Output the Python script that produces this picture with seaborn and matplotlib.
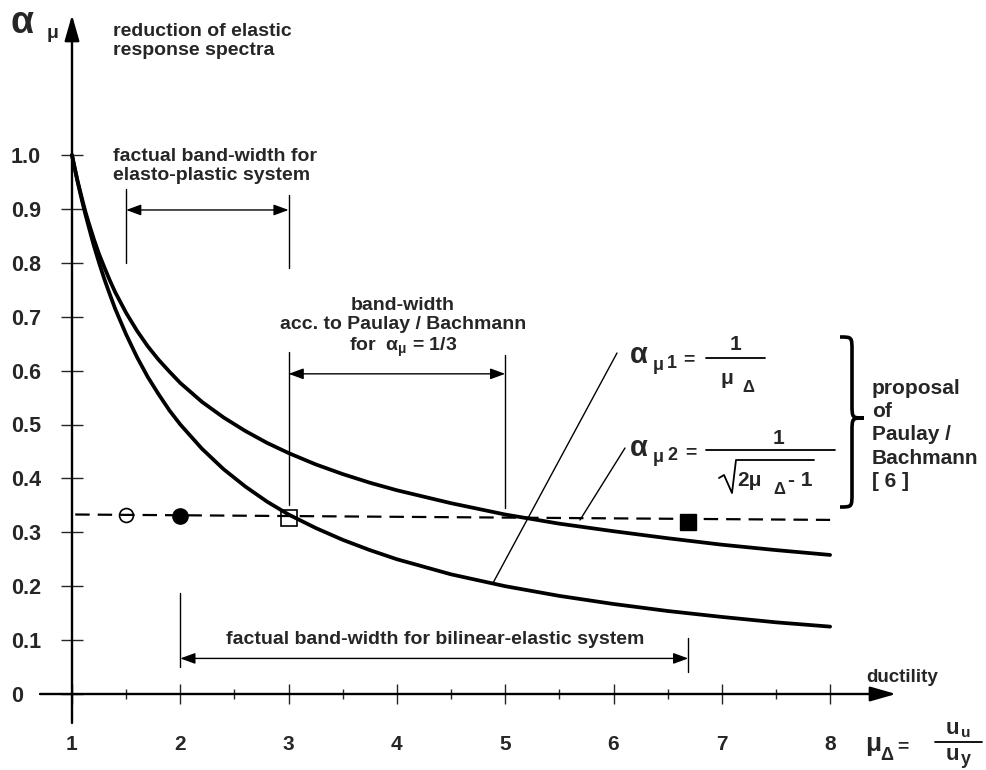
import matplotlib
matplotlib.use("Agg")
import matplotlib.pyplot as plt
import seaborn as sns
import pandas as pd
from matplotlib.path import Path
from matplotlib.patches import PathPatch, FancyArrowPatch

# ---------------- data ----------------
mu = [1.0, 1.01, 1.02, 1.035, 1.05, 1.075, 1.1, 1.125, 1.15, 1.2,
      1.25, 1.3, 1.35, 1.4, 1.5, 1.6, 1.7, 1.8, 1.9, 2.0,
      2.2, 2.4, 2.6, 2.8, 3.0, 3.25, 3.5, 3.75, 4.0, 4.5,
      5.0, 5.5, 6.0, 6.5, 7.0, 7.5, 8.0]
alpha_mu1 = [1.000, 0.990, 0.980, 0.966, 0.952, 0.930, 0.909, 0.889, 0.870, 0.833,
             0.800, 0.769, 0.741, 0.714, 0.667, 0.625, 0.588, 0.556, 0.526, 0.500,
             0.455, 0.417, 0.385, 0.357, 0.333, 0.308, 0.286, 0.267, 0.250, 0.222,
             0.200, 0.182, 0.167, 0.154, 0.143, 0.133, 0.125]
alpha_mu2 = [1.000, 0.990, 0.981, 0.967, 0.953, 0.933, 0.913, 0.894, 0.877, 0.845,
             0.816, 0.791, 0.767, 0.745, 0.707, 0.674, 0.645, 0.620, 0.598, 0.577,
             0.542, 0.513, 0.488, 0.466, 0.447, 0.426, 0.408, 0.392, 0.378, 0.354,
             0.333, 0.316, 0.302, 0.289, 0.277, 0.267, 0.258]
ref_mu = [1.03, 8.0]
ref_alpha = [0.333, 0.323]
marker_mu = [1.5, 2.0, 3.0, 6.69]
marker_alpha = [0.332, 0.331, 0.326, 0.320]
x_ticks = [1, 2, 3, 4, 5, 6, 7, 8]
x_tick_labels = ["1", "2", "3", "4", "5", "6", "7", "8"]
x_minor = [1.5, 2.5, 3.5, 4.5, 5.5, 6.5, 7.5]
y_ticks = [0.0, 0.1, 0.2, 0.3, 0.4, 0.5, 0.6, 0.7, 0.8, 0.9, 1.0]
y_tick_labels = ["0", "0.1", "0.2", "0.3", "0.4", "0.5", "0.6", "0.7", "0.8", "0.9", "1.0"]

# ---------------- style ----------------
sns.set_theme(style="white")
plt.rcParams["font.family"] = ["Liberation Sans", "DejaVu Sans"]
plt.rcParams["font.weight"] = "bold"
plt.rcParams["mathtext.fontset"] = "custom"
plt.rcParams["mathtext.rm"] = "Liberation Sans:bold"
plt.rcParams["mathtext.it"] = "Liberation Sans:bold"
plt.rcParams["mathtext.bf"] = "Liberation Sans:bold"

fig = plt.figure(figsize=(9.86, 7.70), dpi=100)
ax = fig.add_axes([0, 0, 1, 1])

X0, SX, Y0, SY = 72.0, 108.3, 694.0, 539.0


def P(px, py):
    return (1 + (px - X0) / SX, (Y0 - py) / SY)


ax.set_xlim(P(0, 0)[0], P(986, 0)[0])
ax.set_ylim(P(0, 770)[1], P(0, 0)[1])
for s in ax.spines.values():
    s.set_visible(False)
ax.spines["left"].set_position(("data", 1.0))
ax.spines["bottom"].set_position(("data", 0.0))
ax.grid(False)

# ticks
ax.set_xticks(x_ticks, labels=x_tick_labels)
ax.set_xticks(x_minor, minor=True)
ax.set_yticks(y_ticks, labels=y_tick_labels)
ax.tick_params(axis="x", which="major", direction="inout", length=14.4, width=1.0,
               pad=22, labelsize=15, bottom=True)
ax.tick_params(axis="x", which="minor", direction="inout", length=7.5, width=1.0,
               bottom=True)
ax.tick_params(axis="y", which="major", direction="inout", length=15.8, width=1.0,
               pad=36, labelsize=15.5, left=True)
plt.setp(ax.get_yticklabels(), ha="left")

# axes with arrows
axis_style = "-|>,head_length=1.05,head_width=0.3"
ax.add_patch(FancyArrowPatch((1.0, P(0, 723)[1]), (1.0, P(0, 15)[1]), arrowstyle=axis_style,
                             mutation_scale=15, lw=1.7, color="black", shrinkA=0, shrinkB=0))
ax.add_patch(FancyArrowPatch((P(40, 0)[0], 0.0), (P(896, 0)[0], 0.0), arrowstyle=axis_style,
                             mutation_scale=15, lw=1.7, color="black", shrinkA=0, shrinkB=0))

# curves
df = pd.DataFrame({"mu": mu, "a1": alpha_mu1, "a2": alpha_mu2})
sns.lineplot(data=df, x="mu", y="a1", ax=ax, color="black", lw=2.7)
sns.lineplot(data=df, x="mu", y="a2", ax=ax, color="black", lw=2.7)
sns.lineplot(x=ref_mu, y=ref_alpha, ax=ax, color="black", lw=1.6,
             linestyle=(0, (6.5, 3.6)))

# markers
ax.plot(marker_mu[0], marker_alpha[0], marker="o", ms=10, mfc="none", mec="black", mew=1.2)
ax.plot(marker_mu[1], marker_alpha[1], marker="o", ms=11, mfc="black", mec="black")
ax.plot(marker_mu[2], marker_alpha[2], marker="s", ms=11, mfc="none", mec="black", mew=1.2)
ax.plot(marker_mu[3], marker_alpha[3], marker="s", ms=11, mfc="black", mec="black")

ax.set_xlabel("")
ax.set_ylabel("")

thin = dict(color="black", lw=1.0)
dim_style = "<|-|>,head_length=0.6,head_width=0.22"


def dim_arrow(x1, x2, y):
    ax.add_patch(FancyArrowPatch((x1, y), (x2, y), arrowstyle=dim_style, mutation_scale=15,
                                 lw=1.0, color="black", shrinkA=0, shrinkB=0))


# elasto-plastic band
ax.plot([1.5, 1.5], [0.80, 0.937], **thin)
ax.plot([3.0, 3.0], [0.79, 0.926], **thin)
dim_arrow(1.5, 3.0, 0.898)
ax.text(*P(113, 166), "factual band-width for\nelasto-plastic system", fontsize=14,
        ha="left", va="center", linespacing=1.1)

# Paulay / Bachmann band
ax.plot([3.0, 3.0], [0.35, 0.634], **thin)
ax.plot([5.0, 5.0], [0.345, 0.629], **thin)
dim_arrow(3.0, 5.0, 0.594)
ax.text(*P(403, 328), "band-width\nacc. to Paulay / Bachmann\nfor  $\\alpha_{\\mu}$ = 1/3",
        fontsize=14, ha="center", va="center", multialignment="center", linespacing=1.15)

# bilinear band
ax.plot([2.0, 2.0], [0.05, 0.187], **thin)
ax.plot([6.69, 6.69], [0.04, 0.104], **thin)
dim_arrow(2.0, 6.69, 0.066)
ax.text(*P(435, 640), "factual band-width for bilinear-elastic system", fontsize=14,
        ha="center", va="center")

# top-left axis label
ax.text(*P(11, 23), "α", fontsize=27, ha="left", va="center")
ax.text(*P(47, 33), "μ", fontsize=14, ha="left", va="center")
ax.text(*P(113, 41), "reduction of elastic\nresponse spectra", fontsize=14,
        ha="left", va="center", linespacing=1.1)

# x label
ax.text(*P(866, 678), "ductility", fontsize=13.5, ha="left", va="center")
ax.text(*P(865, 744), "μ", fontsize=19, ha="left", va="center")
ax.text(*P(880, 755), "Δ", fontsize=13, ha="left", va="center")
ax.text(*P(897, 747), "=", fontsize=14, ha="left", va="center")
ax.plot(*zip(P(935, 742), P(982, 742)), color="black", lw=1.3)
ax.text(*P(952, 729), "u", fontsize=16, ha="center", va="center")
ax.text(*P(966, 733), "u", fontsize=11, ha="center", va="center")
ax.text(*P(952, 755), "u", fontsize=16, ha="center", va="center")
ax.text(*P(966, 759), "y", fontsize=13, ha="center", va="center")

# formula 1
ax.text(*P(630, 355), "α", fontsize=21, ha="left", va="center")
ax.text(*P(653, 365), "μ", fontsize=13, ha="left", va="center")
ax.text(*P(667, 363), "1", fontsize=13, ha="left", va="center")
ax.text(*P(683, 360), "=", fontsize=14, ha="left", va="center")
ax.plot(*zip(P(706, 358), P(765, 358)), color="black", lw=1.3)
ax.text(*P(736, 345), "1", fontsize=15, ha="center", va="center")
ax.text(*P(727, 379), "μ", fontsize=15, ha="center", va="center")
ax.text(*P(748, 387), "Δ", fontsize=12, ha="center", va="center")

# formula 2
ax.text(*P(630, 448), "α", fontsize=21, ha="left", va="center")
ax.text(*P(653, 458), "μ", fontsize=13, ha="left", va="center")
ax.text(*P(667, 456), "2", fontsize=13, ha="left", va="center")
ax.text(*P(685, 453), "=", fontsize=14, ha="left", va="center")
ax.plot(*zip(P(706, 450), P(835, 450)), color="black", lw=1.3)
ax.text(*P(779, 439), "1", fontsize=15, ha="center", va="center")
rad = [P(719, 478), P(724, 475), P(732, 493), P(736, 460), P(814, 460)]
ax.plot([p[0] for p in rad], [p[1] for p in rad], color="black", lw=1.3)
ax.text(*P(737, 480), "2μ", fontsize=15, ha="left", va="center")
ax.text(*P(779, 490), "Δ", fontsize=12, ha="center", va="center")
ax.text(*P(788, 480), "- 1", fontsize=15, ha="left", va="center")

# leader lines
ax.plot(*zip(P(617, 353), P(493, 583)), color="black", lw=1.0)
ax.plot(*zip(P(625, 448), P(580, 520)), color="black", lw=1.0)

# brace
x0, xm, xt = 840, 852, 864
yt, ymd, yb = 337, 418, 507
r = 14
pts = [P(x0, yt), P(xm, yt), P(xm, yt), P(xm, yt + r),
       P(xm, ymd - r),
       P(xm, ymd), P(xm, ymd), P(xt, ymd),
       P(xm, ymd), P(xm, ymd), P(xm, ymd + r),
       P(xm, yb - r),
       P(xm, yb), P(xm, yb), P(x0, yb)]
codes = [Path.MOVETO, Path.CURVE4, Path.CURVE4, Path.CURVE4,
         Path.LINETO,
         Path.CURVE4, Path.CURVE4, Path.CURVE4,
         Path.CURVE4, Path.CURVE4, Path.CURVE4,
         Path.LINETO,
         Path.CURVE4, Path.CURVE4, Path.CURVE4]
ax.add_patch(PathPatch(Path(pts, codes), fc="none", ec="black", lw=2.6))
ax.text(*P(872, 435), "proposal\nof\nPaulay /\nBachmann\n[ 6 ]", fontsize=15,
        ha="left", va="center", linespacing=1.27)

fig.savefig("out.png", dpi=100, facecolor="white")
